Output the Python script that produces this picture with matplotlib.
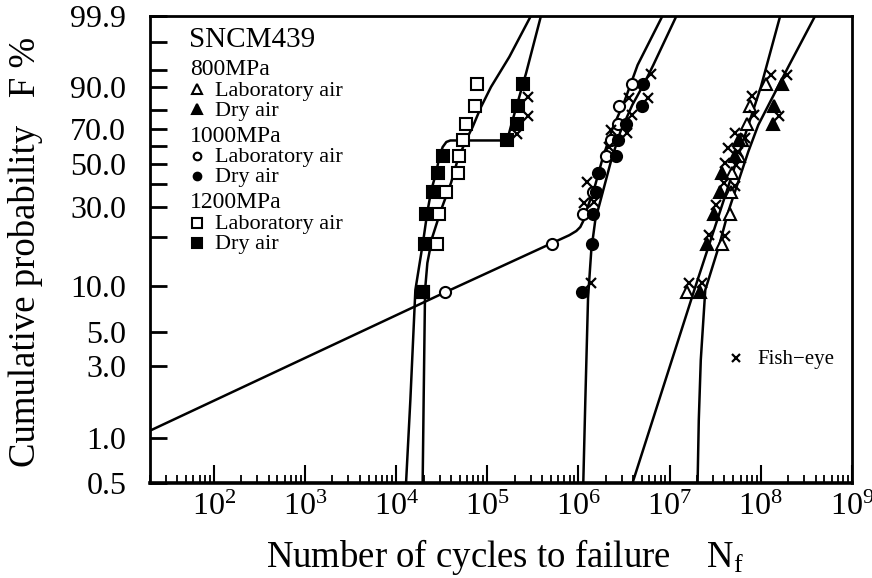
import numpy as np
import matplotlib
matplotlib.use('Agg')
import matplotlib.pyplot as plt
from matplotlib import ticker

plt.rcParams['font.family'] = ['Liberation Serif', 'DejaVu Serif']
plt.rcParams['mathtext.fontset'] = 'custom'
plt.rcParams['mathtext.rm'] = 'Liberation Serif'
plt.rcParams['mathtext.it'] = 'Liberation Serif:italic'

# plotting positions (rank / (n+1)), in %
rank_prob = [9.09, 18.18, 27.27, 36.36, 45.45, 54.55, 63.64, 72.73, 81.82, 90.91]

# cycles to failure, sorted, one value per rank
n800_lab = [1.54e7, 3.74e7, 4.65e7, 4.71e7, 4.81e7, 5.81e7, 6.27e7, 7.08e7, 7.58e7, 1.14e8]
n800_dry = [2.18e7, 2.55e7, 3.09e7, 3.53e7, 3.74e7, 5.16e7, 5.81e7, 1.35e8, 1.41e8, 1.70e8]
n1000_lab = [3.45e4, 5.08e5, 1.13e6, 1.43e6, 1.67e6, 2.01e6, 2.29e6, 2.69e6, 2.81e6, 3.87e6]
n1000_dry = [1.09e6, 1.41e6, 1.46e6, 1.57e6, 1.62e6, 2.58e6, 2.69e6, 3.33e6, 4.98e6, 5.15e6]
n1200_lab = [1.96e4, 2.83e4, 2.93e4, 3.55e4, 4.80e4, 4.94e4, 5.37e4, 5.80e4, 7.40e4, 7.65e4]
n1200_dry = [1.96e4, 2.09e4, 2.13e4, 2.52e4, 2.86e4, 3.24e4, 1.63e5, 2.10e5, 2.19e5, 2.49e5]

# fish-eye marks (as drawn)
fish_n = [2.77e5, 2.77e5, 2.10e5,
          6.25e6, 5.84e6, 3.55e6, 3.87e6, 3.38e6, 2.25e6, 2.18e6, 1.24e6, 1.15e6, 1.49e6, 1.37e6,
          1.29e8, 1.94e8, 7.93e7, 8.34e7, 1.57e8, 5.21e7, 6.71e7, 4.40e7, 5.66e7, 4.05e7,
          5.35e7, 3.98e7, 5.21e7, 3.23e7, 2.68e7, 4.05e7, 1.64e7, 2.24e7]
fish_f = [85.8, 76.8, 66.9,
          93.9, 85.6, 85.6, 77.4, 67.3, 69.2, 59.7, 41.1, 31.5, 32.2, 10.4,
          93.7, 93.7, 86.5, 77.4, 77.0, 67.3, 64.8, 58.8, 56.6, 50.5,
          49.6, 40.3, 39.2, 30.8, 20.7, 20.5, 10.5, 10.5]

# fitted distribution curves
c1200_lab_n = [1.957e4, 2.007e4, 2.08e4, 2.204e4, 2.50e4, 3.113e4, 4.007e4, 4.733e4,
               5.86e4, 6.92e4, 8.55e4, 1.10e5, 1.747e5, 3.02e5]
c1200_lab_f = [0.5, 1.79, 9.42, 13.95, 20.1, 28.9, 40.5, 52.3, 63.5, 70.9, 81.4, 89.9, 97.4, 99.9]

c1200_dry_n = [1.287e4, 1.435e4, 1.628e4, 1.801e4, 1.992e4, 2.204e4, 2.438e4, 2.745e4, 2.984e4,
               3.243e4, 3.561e4, 3.939e4, 1.579e5, 1.703e5, 1.899e5, 2.249e5, 2.664e5, 3.89e5]
c1200_dry_f = [0.5, 1.79, 9.42, 13.56, 19.3, 28.2, 37.2, 45.4, 53.9, 59.5, 62.4, 63.25, 63.25,
               65.8, 74.7, 86.1, 94.1, 99.9]

c1000_lab_n = [20, 3.445e4, 5.083e5, 7.95e5, 9.48e5, 1.049e6, 1.131e6, 1.212e6, 1.494e6,
               1.843e6, 2.371e6, 3.187e6, 3.774e6, 4.459e6, 8.38e6]
c1000_lab_f = [1.115, 9.10, 18.44, 20.63, 21.85, 23.07, 25.02, 28.28, 37.97, 53.22, 70.15,
               83.88, 91.16, 96.0, 99.9]

c1000_dry_n = [1.131e6, 1.191e6, 1.275e6, 1.385e6, 1.532e6, 1.875e6, 2.294e6, 2.88e6, 3.90e6,
               5.28e6, 6.63e6, 1.193e7]
c1000_dry_f = [0.5, 1.79, 8.37, 16.79, 25.35, 37.2, 52.3, 68.09, 82.35, 91.16, 96.0, 99.9]

c800_lab_n = [3.93e6, 1.866e7, 1.005e8, 1.636e8]
c800_lab_f = [0.5, 9.42, 90.0, 99.9]

c800_dry_n = [2.028e7, 2.09e7, 2.198e7, 2.462e7, 3.506e7, 4.40e7, 5.666e7, 7.295e7, 9.39e7,
              1.271e8, 2.053e8, 3.96e8]
c800_dry_f = [0.5, 1.31, 3.29, 9.42, 18.0, 28.28, 41.07, 56.89, 71.98, 83.88, 96.0, 99.9]

prob_ticks = [0.5, 1, 3, 5, 10, 20, 30, 40, 50, 60, 70, 80, 90, 95, 99, 99.9]
prob_labels = ['0.5', '1.0', '3.0', '5.0', '10.0', '', '30.0', '', '50.0', '', '70.0', '',
               '90.0', '', '', '99.9']


def weibull_fwd(p):
    p = np.clip(np.asarray(p, dtype=float), 1e-6, 100 - 1e-6)
    return np.log(-np.log(1 - p / 100.0))


def weibull_inv(w):
    return 100.0 * (1 - np.exp(-np.exp(w)))


fig = plt.figure(figsize=(8.72, 5.78), dpi=100)
ax = fig.add_axes([0.172, 0.1649, 0.805, 0.808])
ax.set_xscale('log')
ax.set_yscale('function', functions=(weibull_fwd, weibull_inv))
ax.set_xlim(20, 1e9)
ax.set_ylim(0.5, 99.9)

# curves
curves = [(c1200_lab_n, c1200_lab_f), (c1200_dry_n, c1200_dry_f),
          (c1000_lab_n, c1000_lab_f), (c1000_dry_n, c1000_dry_f),
          (c800_lab_n, c800_lab_f), (c800_dry_n, c800_dry_f)]
for cn, cf in curves:
    ax.plot(cn, cf, color='k', lw=1.8, solid_capstyle='butt', zorder=2)

# data points: open = laboratory air, filled = dry air
series = [(n800_lab, '^', 'white', 8.5), (n1000_lab, 'o', 'white', 8.0), (n1200_lab, 's', 'white', 8.2),
          (n800_dry, '^', 'k', 8.5), (n1000_dry, 'o', 'k', 8.0), (n1200_dry, 's', 'k', 8.2)]
for ns, mk, face, size in series:
    ax.plot(ns, rank_prob, ls='none', marker=mk, ms=size, mfc=face, mec='k', mew=1.5, zorder=3)

ax.plot(fish_n, fish_f, ls='none', marker='x', ms=6.5, mew=1.6, color='k', zorder=5)

# axes styling
for s in ax.spines.values():
    s.set_linewidth(2.0)
ax.spines['bottom'].set_linewidth(2.6)

ax.xaxis.set_major_locator(ticker.LogLocator(base=10, numticks=20))
ax.xaxis.set_minor_locator(ticker.LogLocator(base=10, subs=np.arange(2, 10), numticks=100))
ax.xaxis.set_minor_formatter(ticker.NullFormatter())
ax.set_yticks(prob_ticks)
ax.set_yticklabels(prob_labels)
ax.yaxis.set_minor_locator(ticker.NullLocator())

ax.tick_params(axis='x', which='major', direction='in', length=13, width=1.5, pad=7, labelsize=23)
ax.tick_params(axis='x', which='minor', direction='in', length=6, width=1.3)
ax.tick_params(axis='y', which='major', direction='in', length=12, width=2, pad=17, labelsize=23)

ax.set_ylabel('Cumulative probability   F %', fontsize=26.5)
ax.yaxis.set_label_coords(-0.152, 0.494)
ax.set_xlabel(r'Number of cycles to failure    $\mathdefault{N_f}$', fontsize=26.5)
ax.xaxis.set_label_coords(0.5057, -0.116)

# legend block (top left)
ax.text(0.0556, 0.9336, 'SNCM439', transform=ax.transAxes, fontsize=21, va='baseline')
groups = [('800MPa', '^', 6.5), ('1000MPa', 'o', 5.5), ('1200MPa', 's', 6.5)]
y0 = 0.873
for stress, mk, size in groups:
    ax.text(0.057, y0, stress, transform=ax.transAxes, fontsize=17, va='baseline')
    for k, (label, face) in enumerate([('Laboratory air', 'white'), ('Dry air', 'k')]):
        yb = y0 - 0.0443 - k * 0.0428
        ax.plot([0.0665], [yb + 0.0137], transform=ax.transAxes, ls='none', marker=mk, ms=size,
                mfc=face, mec='k', mew=1.5, clip_on=False)
        ax.text(0.0926, yb, label, transform=ax.transAxes, fontsize=16, va='baseline')
    y0 -= 0.1428

ax.plot([0.8348], [0.267], transform=ax.transAxes, ls='none', marker='x', ms=6, mew=1.6, color='k')
ax.text(0.8647, 0.2542, 'Fish\u2212eye', transform=ax.transAxes, fontsize=15, va='baseline')

fig.savefig('out.png', dpi=100)
